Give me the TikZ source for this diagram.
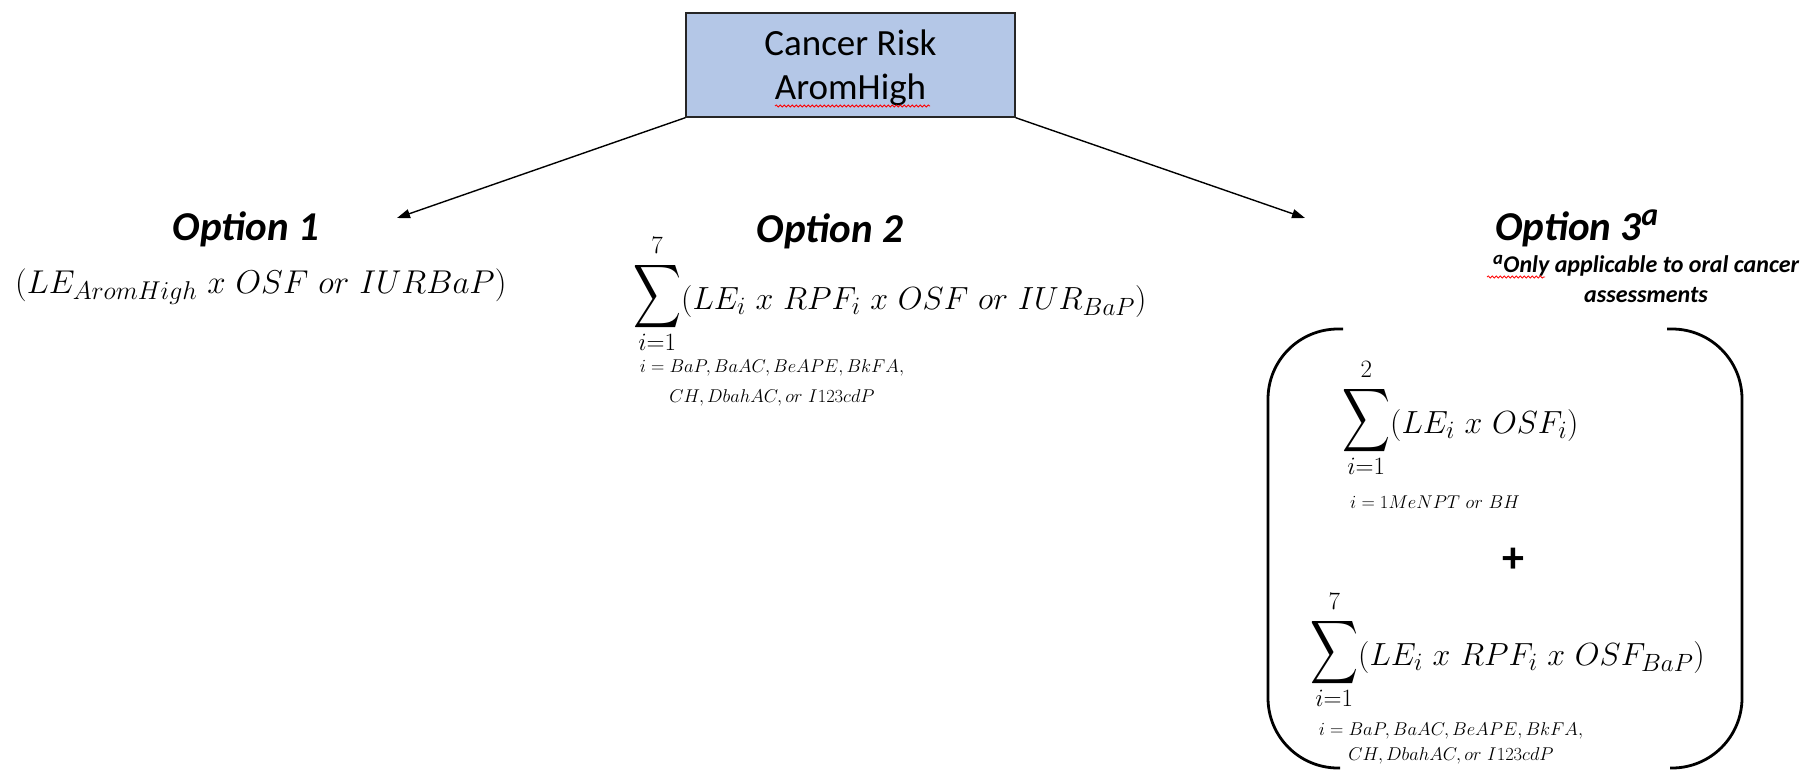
\RequirePackage{fix-cm}
\documentclass[tikz,border=0pt]{standalone}
\usepackage{fontspec}
\usepackage{graphicx}
\newfontfamily\carlito{Carlito}
\usetikzlibrary{arrows.meta,decorations.pathmorphing}
\renewcommand{\defaultscriptratio}{.78}
\newcommand{\BigSum}{\mathop{\raisebox{4.5pt}{$\vcenter{\hbox{\resizebox*{48pt}{71pt}{$\displaystyle\sum$}}}$}}\limits}
\newcommand{\uplim}[1]{#1\rule[-6pt]{0pt}{0pt}}
\tikzset{
  titlebox/.style={draw=black!85, line width=1.4pt, fill=boxblue, minimum width=329pt, minimum height=104pt, inner sep=0pt, align=center, font=\carlito\fontsize{37}{44}\selectfont},
  optlabel/.style={inner sep=0pt, font=\carlito\bfseries\itshape\fontsize{41}{48}\selectfont},
  formula/.style={inner sep=0pt, font=\fontsize{32}{38}\selectfont},
  smallnote/.style={inner sep=0pt, align=center, font=\fontsize{18.5}{30}\selectfont},
  footnote/.style={inner sep=0pt, align=center, font=\carlito\bfseries\itshape\fontsize{24}{30}\selectfont},
  conn/.style={line width=1.4pt, -{Triangle[length=13pt,width=9pt]}},
  bracketline/.style={line width=2.8pt, rounded corners=70pt},
  spell/.style={red, line width=0.8pt, decorate, decoration={snake, amplitude=1.1pt, segment length=4pt}}
}
\definecolor{boxblue}{HTML}{B4C7E7}
\begin{document}
\begin{tikzpicture}[x=1pt,y=-1pt]
\useasboundingbox (0,0) rectangle (1814,771);
% title box
\node[titlebox] (top) at (850.5,65) {};
\node[inner sep=0pt, align=center, font=\carlito\fontsize{37}{44}\selectfont] (toptext) at (850.5,68) {Cancer Risk\\AromHigh};
\draw[spell] (775,106) -- (930,106);
% arrows
\coordinate (a1) at (397,218);
\coordinate (a3) at (1305,218);
\draw[conn] (top.south west) -- (a1);
\draw[conn] (top.south east) -- (a3);
% option 1
\node[optlabel, anchor=base] (o1) at (246,240) {Option 1};
\node[formula, anchor=base west, font=\fontsize{33}{38}\selectfont] (f1) at (15,293) {$(LE_{AromHigh}\ x\ OSF\ or\ IURBaP)$};
% option 2
\node[optlabel, anchor=base] (o2) at (830,242) {Option 2};
\node[formula, anchor=base west] (f2) at (633,309) {$\BigSum_{i=1}^{\uplim{7}}(LE_i\ x\ RPF_i\ x\ OSF\ or\ IUR_{BaP})$};
\node[smallnote] (n2) at (772,383) {$i = BaP, BaAC, BeAPE, BkFA,$\\$CH, DbahAC, or\ I123cdP$};
% option 3
\node[optlabel, anchor=base west] (o3) at (1495,240) {Option 3\textsuperscript{a}};
\node[footnote] (fn) at (1646,279) {\textsuperscript{a}Only applicable to oral cancer\\assessments};
\draw[spell] (1487,277) -- (1545,277);
% brackets
\draw[bracketline] (1343,329) -- (1268,329) -- (1268,768) -- (1340,768);
\draw[bracketline] (1667,329) -- (1742,329) -- (1742,768) -- (1670,768);
\node[formula, anchor=base west] (s1) at (1342,433) {$\BigSum_{i=1}^{\uplim{2}}(LE_i\ x\ OSF_i)$};
\node[smallnote, anchor=base] (n3) at (1435,508) {$i = 1MeNPT\ or\ BH$};
\node[inner sep=0pt, font=\carlito\bfseries\fontsize{44}{48}\selectfont] (plus) at (1513,560) {+};
\node[formula, anchor=base west] (s2) at (1310,665) {$\BigSum_{i=1}^{\uplim{7}}(LE_i\ x\ RPF_i\ x\ OSF_{BaP})$};
\node[smallnote, font=\fontsize{18.5}{25}\selectfont] (n4) at (1451,743) {$i = BaP, BaAC, BeAPE, BkFA,$\\$CH, DbahAC, or\ I123cdP$};
\end{tikzpicture}
\end{document}
